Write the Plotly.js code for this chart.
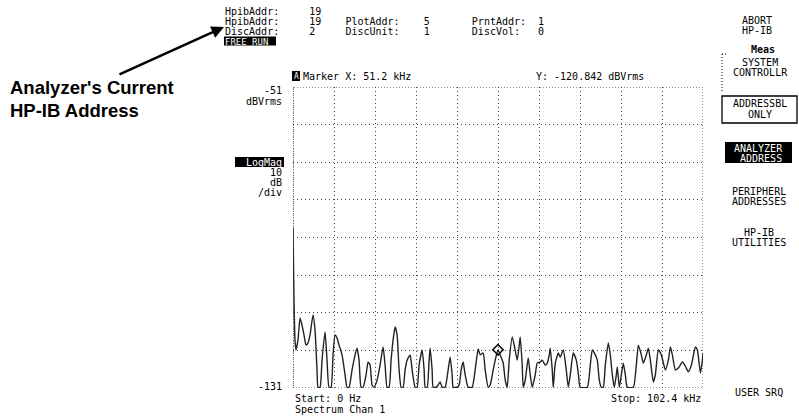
<!DOCTYPE html>
<html>
<head>
<meta charset="utf-8">
<script src="https://cdn.plot.ly/plotly-3.0.1.min.js"></script>
<style>html,body{margin:0;padding:0;background:#fff;}#chart{width:799px;height:420px;}</style>
</head>
<body>
<div id="chart"></div>
<script>
// ---- data ----
var freqKHz = [0,0.25,0.5,0.75,1.25,1.75,2.25,2.75,3.25,3.75,4.25,5.0,5.5,6.0,6.25,6.75,7.25,8.0,8.5,9.0,9.5,10.0,10.5,11.0,11.5,12.25,13.0,13.5,14.0,14.75,15.5,16.0,16.5,17.0,17.5,18.25,18.75,19.25,19.75,20.25,21.0,21.75,22.5,23.0,23.5,24.0,24.5,25.0,25.5,26.0,26.5,27.0,27.5,28.0,28.5,29.25,29.75,30.5,31.0,31.5,32.25,32.75,33.0,33.5,34.0,34.25,34.75,35.0,35.75,36.25,36.75,37.25,38.0,38.75,39.25,39.75,40.0,41.0,41.5,42.0,42.5,43.0,43.75,44.75,45.5,46.25,46.75,47.5,48.0,48.75,49.25,50.0,50.5,51.2,51.75,52.5,53.0,53.5,54.0,54.75,55.25,56.0,56.5,56.75,57.25,57.5,58.0,58.75,59.25,59.75,60.5,61.0,61.75,62.25,63.0,63.5,64.0,64.25,64.75,65.0,65.5,66.25,66.75,67.5,68.25,68.75,69.25,70.0,70.75,71.25,71.75,73.5,74.25,74.75,75.5,76.0,76.5,77.0,77.5,78.0,78.75,79.25,79.75,80.25,80.75,81.0,81.5,82.0,82.5,83.0,83.5,85.0,85.75,86.25,87.0,87.5,88.25,88.75,89.25,90.0,90.5,91.25,92.0,93.0,93.75,94.25,94.75,95.5,96.25,97.25,98.0,98.75,99.5,100.5,101.0,101.75,102.25,102.4];
var magDb = [-88.5,-107.6,-118.2,-120.9,-118.2,-112.4,-114.3,-116.9,-119.6,-119.0,-116.9,-111.6,-115.6,-126.2,-130.8,-130.8,-123.6,-116.1,-123.6,-130.8,-130.8,-122.2,-116.9,-117.7,-119.6,-122.2,-127.5,-130.8,-130.8,-126.2,-122.2,-120.4,-123.6,-130.8,-130.8,-127.5,-124.1,-124.9,-130.2,-130.8,-128.9,-124.9,-120.1,-124.9,-130.8,-130.8,-123.6,-118.2,-114.8,-116.9,-126.2,-130.8,-130.8,-126.2,-123.6,-122.2,-126.2,-130.8,-130.8,-124.9,-120.9,-126.2,-130.8,-130.8,-123.6,-120.4,-126.2,-130.8,-130.8,-130.2,-129.4,-130.8,-130.8,-126.2,-122.8,-127.5,-130.8,-130.8,-130.2,-126.2,-124.1,-127.5,-130.8,-130.8,-126.2,-120.6,-122.2,-121.7,-126.2,-130.8,-130.2,-126.2,-123.6,-120.8,-122.2,-124.4,-128.9,-130.8,-123.6,-117.4,-119.6,-123.6,-119.6,-117.4,-124.9,-130.8,-128.9,-123.0,-127.5,-130.8,-127.5,-124.4,-124.1,-123.6,-124.9,-124.4,-122.2,-120.4,-126.2,-130.8,-124.4,-121.7,-122.8,-120.9,-126.2,-130.8,-127.5,-121.7,-123.6,-127.0,-130.8,-130.8,-124.9,-120.9,-122.2,-123.6,-128.9,-130.8,-130.8,-124.9,-119.0,-122.2,-127.5,-130.8,-127.5,-125.4,-130.8,-127.5,-124.4,-127.5,-130.8,-130.8,-124.9,-119.6,-122.2,-124.4,-122.2,-120.4,-123.6,-129.4,-127.5,-120.9,-122.2,-126.2,-123.6,-120.1,-122.2,-126.2,-125.7,-124.1,-125.2,-126.7,-124.9,-120.1,-120.9,-127.0,-123.6,-121.7];
var markerFreq = [51.2];
var markerMag = [-120.842];
var startKHz = 0, stopKHz = 102.4;
var refTop = -51, refBottom = -131, dbPerDiv = 10;
var hpibAddr = 19, plotAddr = 5, prntAddr = 1, discAddr = 2, discUnit = 1, discVol = 0;

// ---- layout helpers (pixel -> paper) ----
var W = 799, H = 420;
function px(x){ return x / W; }
function py(y){ return 1 - y / H; }
var MONO = 'DejaVu Sans Mono, Liberation Mono, monospace';
var NB = '\u00a0';
function pad(s, n){ s = String(s); while (s.length < n) s += NB; return s; }

// multi-line block: glyph size `fs`, line pitch `pitch` px
function block(lines, x, y, anchor, fs, pitch, extra){
  var html = lines.map(function(l){
    var st = 'font-size:' + fs + 'px' + (l.style ? ';' + l.style : '');
    var t = (typeof l === 'string') ? l : l.t;
    if (typeof l !== 'string' && l.style) { st = 'font-size:' + fs + 'px;' + l.style; }
    else st = 'font-size:' + fs + 'px';
    return '<span style="' + st + '">' + t + '</span>';
  }).join('<br>');
  return Object.assign({
    text: html, xref: 'paper', yref: 'paper', x: px(x), y: py(y),
    xanchor: anchor || 'left', yanchor: 'middle', align: anchor === 'center' ? 'center' : (anchor === 'right' ? 'right' : 'left'),
    showarrow: false, borderpad: 0,
    font: {family: MONO, size: pitch / 1.3, color: '#000'}
  }, extra || {});
}
function txt(text, x, y, anchor, opts){
  return Object.assign({
    text: text, xref: 'paper', yref: 'paper', x: px(x), y: py(y),
    xanchor: anchor || 'left', yanchor: 'middle', showarrow: false, borderpad: 0,
    font: {family: MONO, size: 10, color: '#000'}
  }, opts || {});
}

var line1 = pad('HpibAddr:', 14) + hpibAddr;
var line2 = pad(pad('HpibAddr:', 14) + hpibAddr, 20) + pad(pad('PlotAddr:', 13) + plotAddr, 21) + pad('PrntAddr:', 11) + prntAddr;
var line3 = pad(pad('DiscAddr:', 14) + discAddr, 20) + pad(pad('DiscUnit:', 13) + discUnit, 21) + pad('DiscVol:', 11) + discVol;

var annotations = [
  block([line1, line2, line3, {t: 'FREE' + NB + 'RUN', style: 'fill:#fff;font-size:9px'}], 224, 26, 'left', 10, 10),
  txt('<b>Meas</b>', 776, 49.5, 'right'),
  block(['ABORT', 'HP-IB'], 757, 25, 'center', 10, 10),
  block(['SYSTEM', 'CONTROLLR'], 760, 67, 'center', 10, 10),
  block(['ADDRESSBL', 'ONLY'], 760, 109.5, 'center', 10, 10.5),
  block([{t: 'ANALYZER', style: 'fill:#fff'}, {t: NB + 'ADDRESS', style: 'fill:#fff'}], 758, 153, 'center', 10, 10),
  block(['PERIPHERL', 'ADDRESSES'], 759, 196, 'center', 10, 10),
  block(['HP-IB', 'UTILITIES'], 759, 237, 'center', 10, 10),
  txt('USER' + NB + 'SRQ', 759, 392, 'center'),
  block([String(refTop), 'dBVrms'], 283, 96.5, 'right', 10, 11),
  block([{t: 'LogMag', style: 'fill:#fff'}, String(dbPerDiv), 'dB', '/div'], 283, 177, 'right', 10, 10),
  txt(String(refBottom), 283, 386, 'right'),
  txt('A', 296, 76, 'center', {font: {family: MONO, size: 8, color: '#fff'}}),
  txt('Marker X: ' + markerFreq[0].toFixed(1) + ' kHz', 302, 76),
  txt('Y: ' + markerMag[0].toFixed(3) + ' dBVrms', 535, 76),
  block(['Start:' + NB + startKHz + NB + 'Hz', 'Spectrum' + NB + 'Chan' + NB + '1'], 294, 403.5, 'left', 10, 11),
  txt('Stop: ' + stopKHz.toFixed(1) + ' kHz', 702, 398, 'right'),
  block(['<b>Analyzer\'s Current</b>', '<b>HP-IB Address</b>'], 9, 99, 'left', 18.5, 22.5,
        {font: {family: 'Liberation Sans, Arial, sans-serif', size: 22.5 / 1.3, color: '#000'}}),
  {xref: 'paper', yref: 'paper', x: px(224), y: py(27), text: '', showarrow: true,
   arrowhead: 2, arrowsize: 1, arrowwidth: 2.5, arrowcolor: '#000',
   ax: 118 - 224, ay: 75 - 27}
];

var shapes = [
  // plot frame (dotted)
  {type: 'rect', xref: 'x', yref: 'y', x0: startKHz, x1: stopKHz, y0: refBottom, y1: refTop,
   line: {color: '#222', width: 1, dash: '1px,2px'}},
  {type: 'line', xref: 'x', yref: 'y', x0: startKHz, x1: startKHz, y0: refBottom, y1: refTop,
   line: {color: '#333', width: 1.2, dash: '1px,1px'}},
  // inverted label backgrounds
  {type: 'rect', xref: 'paper', yref: 'paper', x0: px(224), x1: px(276), y0: py(45.5), y1: py(36.5),
   fillcolor: '#000', line: {width: 0}, layer: 'below'},
  {type: 'rect', xref: 'paper', yref: 'paper', x0: px(235), x1: px(284), y0: py(167), y1: py(157),
   fillcolor: '#000', line: {width: 0}, layer: 'below'},
  {type: 'rect', xref: 'paper', yref: 'paper', x0: px(725), x1: px(792), y0: py(163), y1: py(142),
   fillcolor: '#000', line: {width: 0}, layer: 'below'},
  {type: 'rect', xref: 'paper', yref: 'paper', x0: px(292), x1: px(300), y0: py(81), y1: py(71),
   fillcolor: '#000', line: {width: 0}, layer: 'below'},
  // softkey frames
  {type: 'rect', xref: 'paper', yref: 'paper', x0: px(722), x1: px(797), y0: py(123), y1: py(96),
   line: {color: '#000', width: 1.3}},
  {type: 'line', xref: 'paper', yref: 'paper', x0: px(722), x1: px(722), y0: py(54), y1: py(92),
   line: {color: '#000', width: 1, dash: '1px,2px'}},
  {type: 'line', xref: 'paper', yref: 'paper', x0: px(722), x1: px(727), y0: py(54), y1: py(54),
   line: {color: '#000', width: 1, dash: '1px,2px'}}
];

var traces = [
  {x: freqKHz, y: magDb, type: 'scatter', mode: 'lines',
   line: {color: '#222', width: 1.4, shape: 'spline', smoothing: 0.5}, hoverinfo: 'skip', cliponaxis: true},
  {x: markerFreq, y: markerMag, type: 'scatter', mode: 'markers',
   marker: {symbol: 'diamond-open', size: 8, color: '#000', line: {width: 1.5}}, hoverinfo: 'skip'}
];

var layout = {
  width: W, height: H,
  margin: {l: 0, r: 0, t: 0, b: 0},
  paper_bgcolor: '#fff', plot_bgcolor: 'rgba(0,0,0,0)',
  showlegend: false,
  xaxis: {domain: [px(293), px(703)], range: [startKHz, stopKHz], dtick: (stopKHz - startKHz) / 10, tick0: 0,
          showgrid: true, gridcolor: '#444', gridwidth: 1, griddash: '1px,3px',
          zeroline: false, showticklabels: false, ticks: '', showline: false, fixedrange: true},
  yaxis: {domain: [py(388), py(87)], range: [refBottom, refTop], dtick: dbPerDiv, tick0: refTop,
          showgrid: true, gridcolor: '#444', gridwidth: 1, griddash: '1px,3px',
          zeroline: false, showticklabels: false, ticks: '', showline: false, fixedrange: true},
  annotations: annotations,
  shapes: shapes
};

Plotly.newPlot('chart', traces, layout, {displayModeBar: false, staticPlot: true});
</script>
</body>
</html>
